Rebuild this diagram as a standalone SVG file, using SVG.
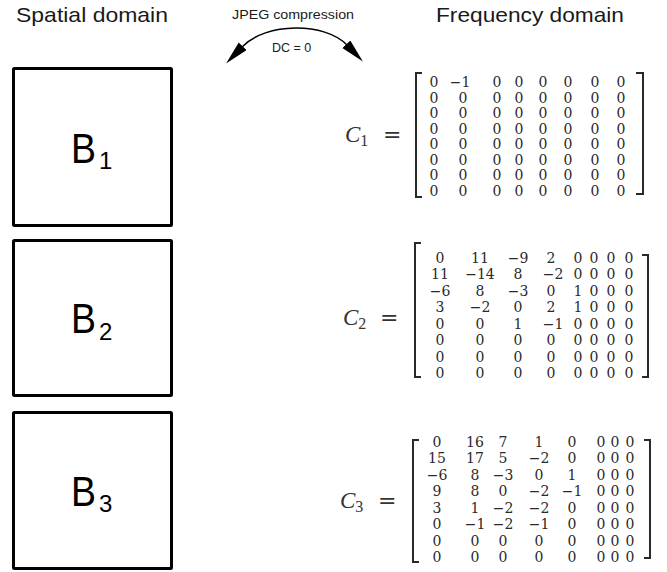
<svg xmlns="http://www.w3.org/2000/svg" width="667" height="572" viewBox="0 0 667 572">
<style>
.hd{font-family:"Liberation Sans",Arial,sans-serif;font-size:21px;fill:#1a1a1a}
.sm{font-family:"Liberation Sans",Arial,sans-serif;font-size:12.5px;fill:#1a1a1a}
.box{fill:#fff;stroke:#000;stroke-width:3}
.bl{font-family:"Liberation Sans",Arial,sans-serif;font-size:43px;fill:#000}
.bs{font-family:"Liberation Sans",Arial,sans-serif;font-size:24px;fill:#000}
.m{font-family:"DejaVu Serif",serif;font-size:14px;fill:#2a2a2a;text-anchor:middle}
.c{font-family:"Liberation Serif",serif;font-style:italic;font-size:23px;fill:#333}
.cs{font-style:normal;font-size:16px}
.eq{font-family:"DejaVu Serif",serif;font-size:22px;fill:#333}
.br{fill:none;stroke:#2a2a2a;stroke-width:2}
.arc{fill:none;stroke:#000;stroke-width:1.5}
</style>
<defs>
<marker id="ah" markerUnits="userSpaceOnUse" markerWidth="26" markerHeight="12" refX="1" refY="5.5" orient="auto-start-reverse">
<path d="M0,0 L24,5.5 L0,11 Z" fill="#000"/>
</marker>
</defs>

<text class="hd" x="16" y="22" textLength="152" lengthAdjust="spacingAndGlyphs">Spatial domain</text>
<text class="hd" x="436" y="22" textLength="188" lengthAdjust="spacingAndGlyphs">Frequency domain</text>

<g id="connectors">
<path class="arc" d="M242 47 C266 22 325 22 347 45" marker-start="url(#ah)" marker-end="url(#ah)"/>
<text class="sm" x="232" y="19" textLength="122" lengthAdjust="spacingAndGlyphs">JPEG compression</text>
<text class="sm" x="272" y="52">DC = 0</text>
</g>

<g id="B1">
<rect class="box" x="13.5" y="68.5" width="158" height="157" rx="1"/>
<text class="bl" x="71" y="163" textLength="25" lengthAdjust="spacingAndGlyphs">B</text>
<text class="bs" x="99" y="169">1</text>
</g>
<g id="B2">
<rect class="box" x="13.5" y="240.5" width="158" height="155" rx="1"/>
<text class="bl" x="71" y="333" textLength="25" lengthAdjust="spacingAndGlyphs">B</text>
<text class="bs" x="99" y="340">2</text>
</g>
<g id="B3">
<rect class="box" x="13.5" y="412.5" width="158" height="156" rx="1"/>
<text class="bl" x="71" y="506" textLength="25" lengthAdjust="spacingAndGlyphs">B</text>
<text class="bs" x="99" y="512">3</text>
</g>

<g id="C1">
<text class="c" x="345" y="142">C<tspan class="cs" dy="4">1</tspan></text>
<text class="eq" x="383" y="142">=</text>
<path class="br" d="M422 73 H416 V197 H422"/>
<path class="br" d="M636 73 H643 V194 H636"/>
<text class="m" y="87"><tspan x="434">0</tspan><tspan x="460">−1</tspan><tspan x="497">0</tspan><tspan x="519">0</tspan><tspan x="543">0</tspan><tspan x="568">0</tspan><tspan x="595">0</tspan><tspan x="621">0</tspan></text>
<text class="m" y="102.5"><tspan x="434">0</tspan><tspan x="463">0</tspan><tspan x="497">0</tspan><tspan x="519">0</tspan><tspan x="543">0</tspan><tspan x="568">0</tspan><tspan x="595">0</tspan><tspan x="621">0</tspan></text>
<text class="m" y="118"><tspan x="434">0</tspan><tspan x="463">0</tspan><tspan x="497">0</tspan><tspan x="519">0</tspan><tspan x="543">0</tspan><tspan x="568">0</tspan><tspan x="595">0</tspan><tspan x="621">0</tspan></text>
<text class="m" y="133.5"><tspan x="434">0</tspan><tspan x="463">0</tspan><tspan x="497">0</tspan><tspan x="519">0</tspan><tspan x="543">0</tspan><tspan x="568">0</tspan><tspan x="595">0</tspan><tspan x="621">0</tspan></text>
<text class="m" y="149"><tspan x="434">0</tspan><tspan x="463">0</tspan><tspan x="497">0</tspan><tspan x="519">0</tspan><tspan x="543">0</tspan><tspan x="568">0</tspan><tspan x="595">0</tspan><tspan x="621">0</tspan></text>
<text class="m" y="164.5"><tspan x="434">0</tspan><tspan x="463">0</tspan><tspan x="497">0</tspan><tspan x="519">0</tspan><tspan x="543">0</tspan><tspan x="568">0</tspan><tspan x="595">0</tspan><tspan x="621">0</tspan></text>
<text class="m" y="180"><tspan x="434">0</tspan><tspan x="463">0</tspan><tspan x="497">0</tspan><tspan x="519">0</tspan><tspan x="543">0</tspan><tspan x="568">0</tspan><tspan x="595">0</tspan><tspan x="621">0</tspan></text>
<text class="m" y="195.5"><tspan x="434">0</tspan><tspan x="463">0</tspan><tspan x="497">0</tspan><tspan x="519">0</tspan><tspan x="543">0</tspan><tspan x="568">0</tspan><tspan x="595">0</tspan><tspan x="621">0</tspan></text>
</g>

<g id="C2">
<text class="c" x="343" y="325">C<tspan class="cs" dy="4">2</tspan></text>
<text class="eq" x="380" y="325">=</text>
<path class="br" d="M421 243 H415 V377 H421"/>
<path class="br" d="M642 255 H648 V377 H642"/>
<text class="m" y="263"><tspan x="440">0</tspan><tspan x="480">11</tspan><tspan x="518">−9</tspan><tspan x="551">2</tspan><tspan x="578">0</tspan><tspan x="594">0</tspan><tspan x="611">0</tspan><tspan x="629">0</tspan></text>
<text class="m" y="279.4"><tspan x="440">11</tspan><tspan x="480">−14</tspan><tspan x="518">8</tspan><tspan x="553">−2</tspan><tspan x="578">0</tspan><tspan x="594">0</tspan><tspan x="611">0</tspan><tspan x="629">0</tspan></text>
<text class="m" y="295.9"><tspan x="440">−6</tspan><tspan x="480">8</tspan><tspan x="518">−3</tspan><tspan x="551">0</tspan><tspan x="578">1</tspan><tspan x="594">0</tspan><tspan x="611">0</tspan><tspan x="629">0</tspan></text>
<text class="m" y="312.3"><tspan x="440">3</tspan><tspan x="480">−2</tspan><tspan x="518">0</tspan><tspan x="551">2</tspan><tspan x="578">1</tspan><tspan x="594">0</tspan><tspan x="611">0</tspan><tspan x="629">0</tspan></text>
<text class="m" y="328.7"><tspan x="440">0</tspan><tspan x="480">0</tspan><tspan x="518">1</tspan><tspan x="553">−1</tspan><tspan x="578">0</tspan><tspan x="594">0</tspan><tspan x="611">0</tspan><tspan x="629">0</tspan></text>
<text class="m" y="345.1"><tspan x="440">0</tspan><tspan x="480">0</tspan><tspan x="518">0</tspan><tspan x="551">0</tspan><tspan x="578">0</tspan><tspan x="594">0</tspan><tspan x="611">0</tspan><tspan x="629">0</tspan></text>
<text class="m" y="361.6"><tspan x="440">0</tspan><tspan x="480">0</tspan><tspan x="518">0</tspan><tspan x="551">0</tspan><tspan x="578">0</tspan><tspan x="594">0</tspan><tspan x="611">0</tspan><tspan x="629">0</tspan></text>
<text class="m" y="378"><tspan x="440">0</tspan><tspan x="480">0</tspan><tspan x="518">0</tspan><tspan x="551">0</tspan><tspan x="578">0</tspan><tspan x="594">0</tspan><tspan x="611">0</tspan><tspan x="629">0</tspan></text>
</g>

<g id="C3">
<text class="c" x="340" y="508">C<tspan class="cs" dy="4">3</tspan></text>
<text class="eq" x="378" y="508">=</text>
<path class="br" d="M419 440 H413 V562 H419"/>
<path class="br" d="M644 440 H650 V558 H644"/>
<text class="m" y="447"><tspan x="437">0</tspan><tspan x="475">16</tspan><tspan x="503">7</tspan><tspan x="539">1</tspan><tspan x="572">0</tspan><tspan x="601">0</tspan><tspan x="615">0</tspan><tspan x="630">0</tspan></text>
<text class="m" y="463.4"><tspan x="437">15</tspan><tspan x="475">17</tspan><tspan x="503">5</tspan><tspan x="539">−2</tspan><tspan x="572">0</tspan><tspan x="601">0</tspan><tspan x="615">0</tspan><tspan x="630">0</tspan></text>
<text class="m" y="479.9"><tspan x="437">−6</tspan><tspan x="475">8</tspan><tspan x="503">−3</tspan><tspan x="539">0</tspan><tspan x="572">1</tspan><tspan x="601">0</tspan><tspan x="615">0</tspan><tspan x="630">0</tspan></text>
<text class="m" y="496.3"><tspan x="437">9</tspan><tspan x="475">8</tspan><tspan x="503">0</tspan><tspan x="539">−2</tspan><tspan x="572">−1</tspan><tspan x="601">0</tspan><tspan x="615">0</tspan><tspan x="630">0</tspan></text>
<text class="m" y="512.7"><tspan x="437">3</tspan><tspan x="475">1</tspan><tspan x="503">−2</tspan><tspan x="539">−2</tspan><tspan x="572">0</tspan><tspan x="601">0</tspan><tspan x="615">0</tspan><tspan x="630">0</tspan></text>
<text class="m" y="529.1"><tspan x="437">0</tspan><tspan x="475">−1</tspan><tspan x="503">−2</tspan><tspan x="539">−1</tspan><tspan x="572">0</tspan><tspan x="601">0</tspan><tspan x="615">0</tspan><tspan x="630">0</tspan></text>
<text class="m" y="545.6"><tspan x="437">0</tspan><tspan x="475">0</tspan><tspan x="503">0</tspan><tspan x="539">0</tspan><tspan x="572">0</tspan><tspan x="601">0</tspan><tspan x="615">0</tspan><tspan x="630">0</tspan></text>
<text class="m" y="562"><tspan x="437">0</tspan><tspan x="475">0</tspan><tspan x="503">0</tspan><tspan x="539">0</tspan><tspan x="572">0</tspan><tspan x="601">0</tspan><tspan x="615">0</tspan><tspan x="630">0</tspan></text>
</g>
</svg>
